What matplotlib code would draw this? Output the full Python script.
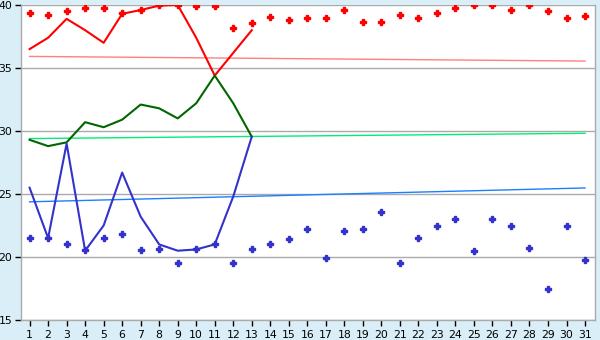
import matplotlib
matplotlib.use("Agg")
import matplotlib.pyplot as plt

# --- data ---
days = list(range(1, 32))
line_days = list(range(1, 14))

red_line = [36.5, 37.4, 38.9, 38.0, 37.0, 39.3, 39.6, 39.95, 40.0, 37.4, 34.4, 36.2, 38.0]
green_line = [29.3, 28.8, 29.1, 30.7, 30.3, 30.9, 32.1, 31.8, 31.0, 32.2, 34.4, 32.2, 29.55]
blue_line = [25.5, 21.5, 29.0, 20.5, 22.5, 26.7, 23.2, 21.0, 20.5, 20.6, 21.0, 24.8, 29.55]

red_pts = [39.4, 39.2, 39.5, 39.75, 39.8, 39.4, 39.6, 40.0, 40.0, 39.95, 39.9, 38.2, 38.6,
           39.05, 38.8, 38.95, 38.95, 39.6, 38.65, 38.65, 39.2, 39.0, 39.4, 39.8, 39.97,
           39.97, 39.6, 39.97, 39.5, 39.0, 39.1]
blue_pts = [21.5, 21.5, 21.0, 20.55, 21.5, 21.8, 20.55, 20.6, 19.5, 20.6, 21.0, 19.5, 20.6,
            21.0, 21.4, 22.2, 19.9, 22.05, 22.2, 23.55, 19.5, 21.5, 22.5, 23.0, 20.45,
            23.0, 22.5, 20.7, 17.45, 22.45, 19.8]

# trend lines (start / end values at day 1 and day 31)
trend_days = [1, 31]
red_trend = [35.92, 35.55]
green_trend = [29.4, 29.82]
blue_trend = [24.38, 25.48]

yticks = [15, 20, 25, 30, 35, 40]

bg = "#d9eef6"
grid_c = "#aaaaaa"

fig = plt.figure(figsize=(6, 3.4), dpi=100, facecolor=bg)
ax = fig.add_axes([0.0345, 0.0588, 0.9575, 0.9265])
ax.set_facecolor("white")

# trend lines
ax.plot(trend_days, red_trend, color="#ff8080", lw=1.0, zorder=2)
ax.plot(trend_days, green_trend, color="#00ee77", lw=1.0, zorder=2)
ax.plot(trend_days, blue_trend, color="#1a80ff", lw=1.0, zorder=2)

# main lines
ax.plot(line_days, red_line, color="#ff0000", lw=1.5, zorder=3)
ax.plot(line_days, green_line, color="#006600", lw=1.5, zorder=3)
ax.plot(line_days, blue_line, color="#3333cc", lw=1.5, zorder=3)

# points
ax.plot(days, red_pts, ls="none", marker="P", ms=3.8, color="#ff0000", mec="#ff0000", zorder=4)
ax.plot(days, blue_pts, ls="none", marker="P", ms=3.8, color="#3333cc", mec="#3333cc", zorder=4)

ax.set_xlim(0.52, 31.55)
ax.set_ylim(15, 40)
ax.set_xticks(days)
ax.set_yticks(yticks)
ax.yaxis.grid(True, color=grid_c, lw=1)
ax.set_axisbelow(True)

for s in ax.spines.values():
    s.set_color(grid_c)
    s.set_linewidth(1)
ax.spines["top"].set_visible(False)

ax.tick_params(axis="both", colors="black", labelsize=7.8, length=4, width=1, pad=2)
ax.tick_params(axis="x", pad=3)

fig.savefig("out.png", dpi=100, facecolor=bg)
